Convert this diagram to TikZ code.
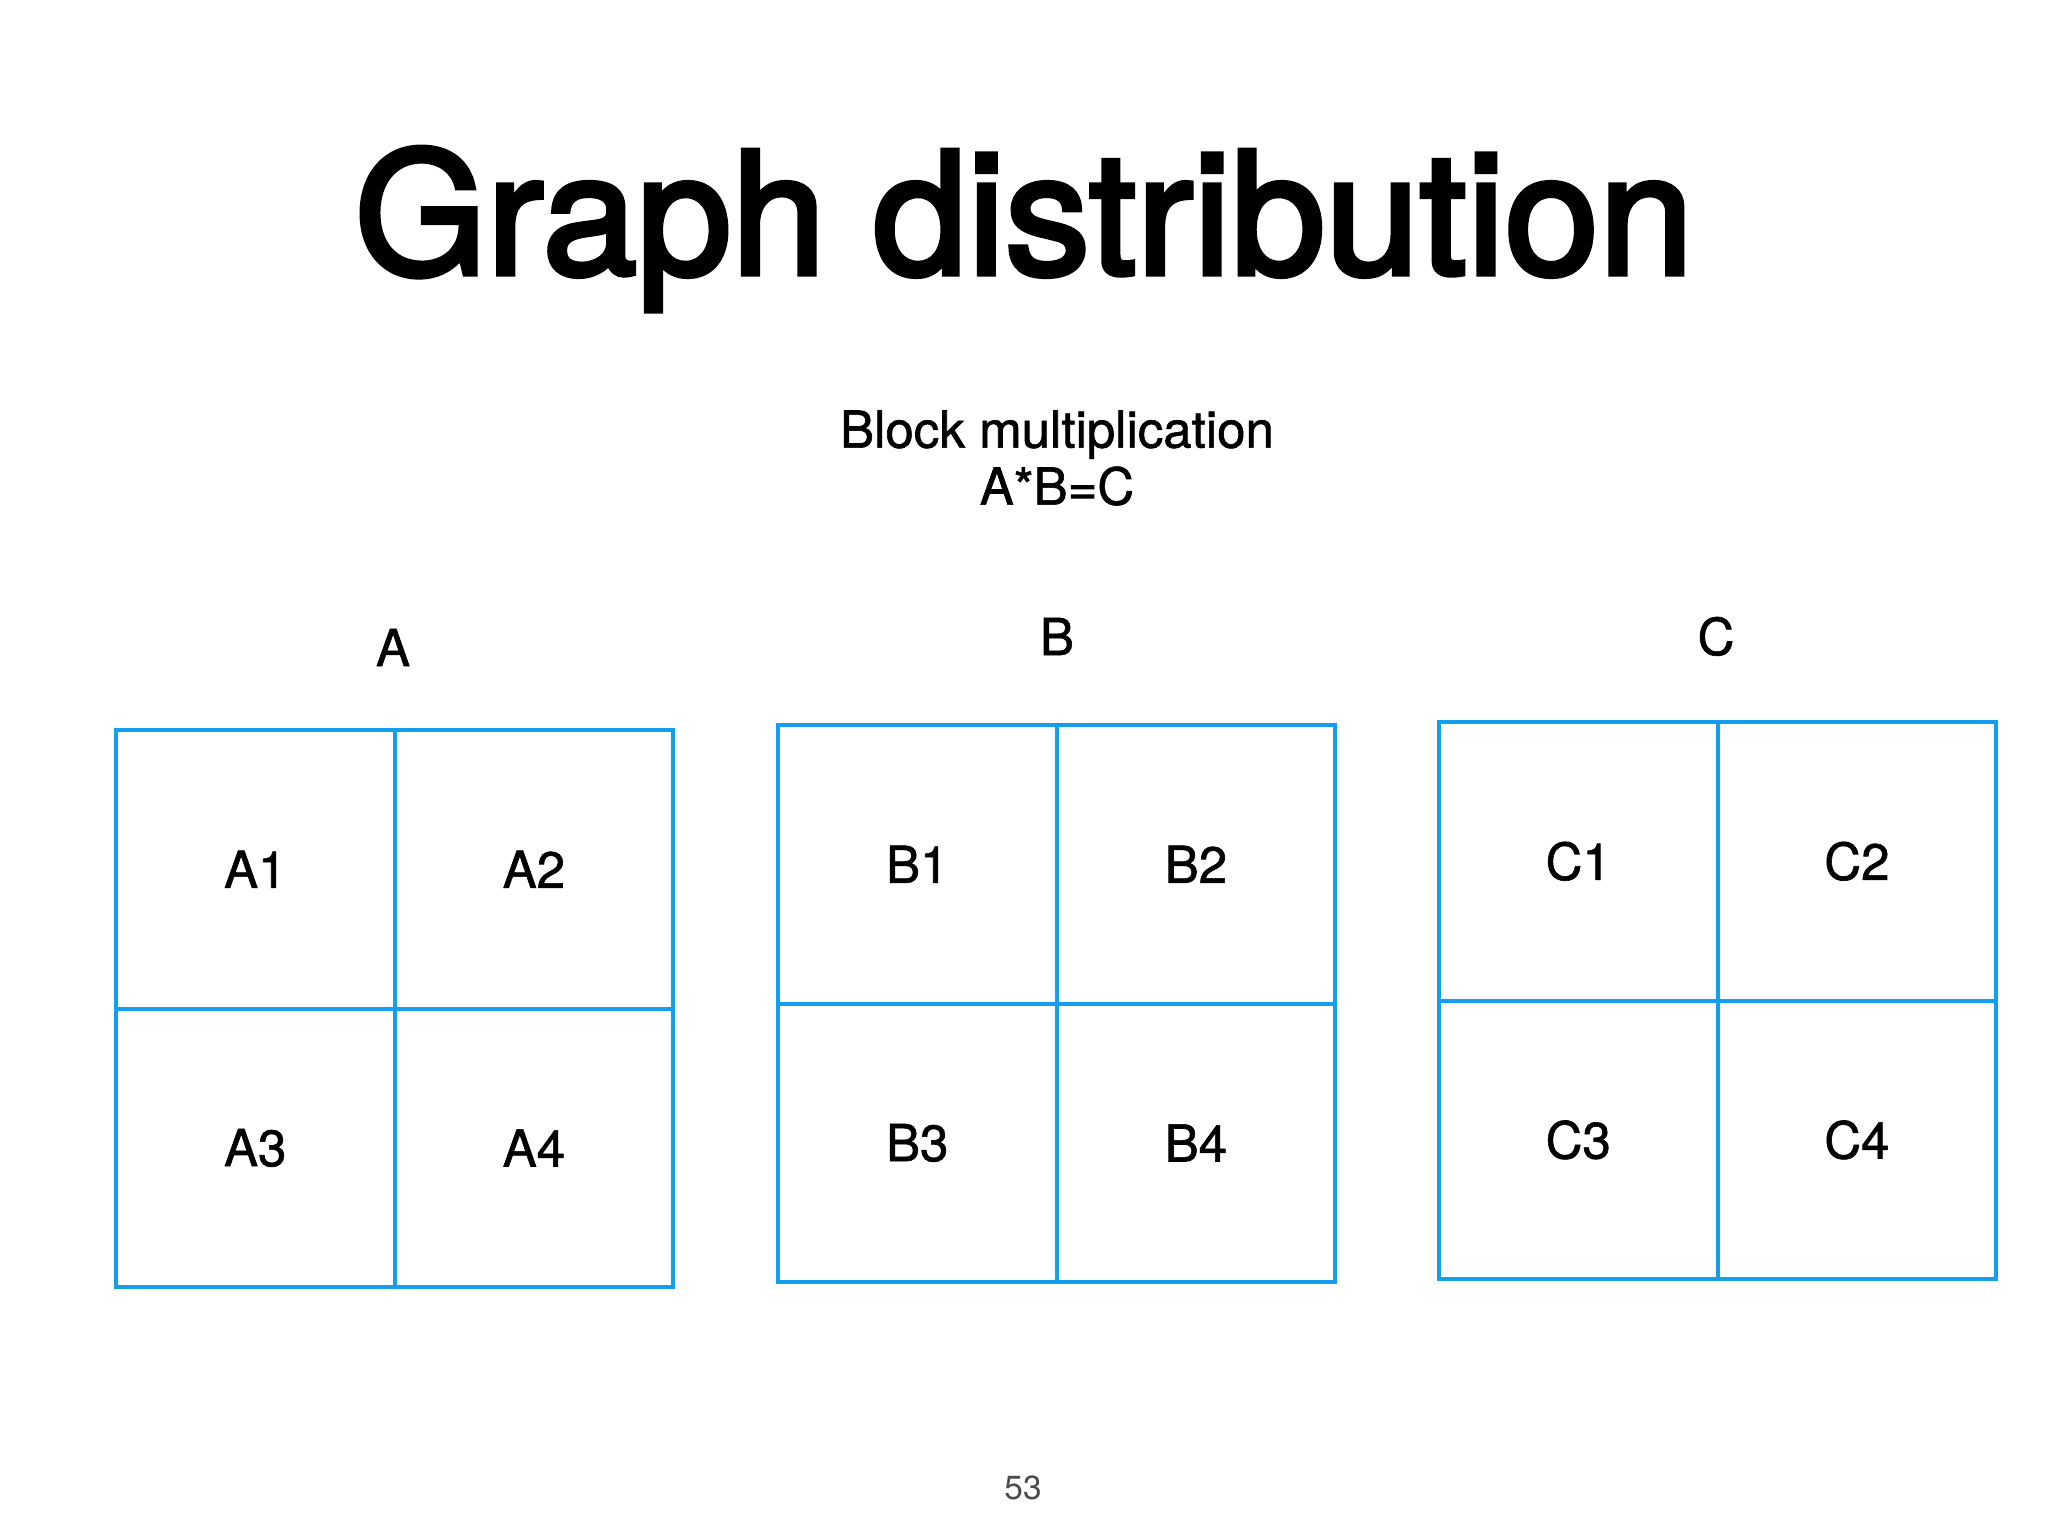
\documentclass[tikz,border=0pt]{standalone}
\usepackage{fontspec}
\setmainfont{TeX Gyre Heros}
\newfontfamily\titlefont{TeX Gyre Heros}[FakeBold=3]
\newfontfamily\medfont{TeX Gyre Heros}[FakeBold=1.2]
\usetikzlibrary{positioning}
\definecolor{gridblue}{RGB}{20,158,240}

\begin{document}
\begin{tikzpicture}[x=0.01cm,y=-0.01cm,
    cell/.style={draw=gridblue,line width=1.1pt,outer sep=0pt,inner sep=0pt,
                 minimum width=2.785cm,minimum height=2.785cm,
                 font=\medfont\fontsize{14.5}{16}\selectfont},
    mlabel/.style={anchor=base,font=\medfont\fontsize{14.5}{16}\selectfont}]
    \useasboundingbox (0,0) rectangle (2048,1536);

    \node[anchor=base,font=\titlefont\fontsize{48.3}{53}\selectfont] (title) at (1024,274) {Graph distribution};
    \node[align=center,font=\medfont\fontsize{14.5}{16.2}\selectfont] (sub) at (1057,458) {Block multiplication\\A*B=C};

    % matrix A
    \node[mlabel] (la) at (393,666) {A};
    \node[cell] (a1) at (255.25,869.25) {A1};
    \node[cell,right=0pt of a1] (a2) {A2};
    \node[cell,below=0pt of a1] (a3) {A3};
    \node[cell,right=0pt of a3] (a4) {A4};

    % matrix B
    \node[mlabel] (lb) at (1057,655) {B};
    \node[cell] (b1) at (917.25,864.25) {B1};
    \node[cell,right=0pt of b1] (b2) {B2};
    \node[cell,below=0pt of b1] (b3) {B3};
    \node[cell,right=0pt of b3] (b4) {B4};

    % matrix C
    \node[mlabel] (lc) at (1716,655) {C};
    \node[cell] (c1) at (1578.25,861.25) {C1};
    \node[cell,right=0pt of c1] (c2) {C2};
    \node[cell,below=0pt of c1] (c3) {C3};
    \node[cell,right=0pt of c3] (c4) {C4};

    \node[anchor=base,font=\fontsize{9.5}{11}\selectfont,text=black!70] (page) at (1023,1499) {53};
\end{tikzpicture}
\end{document}
